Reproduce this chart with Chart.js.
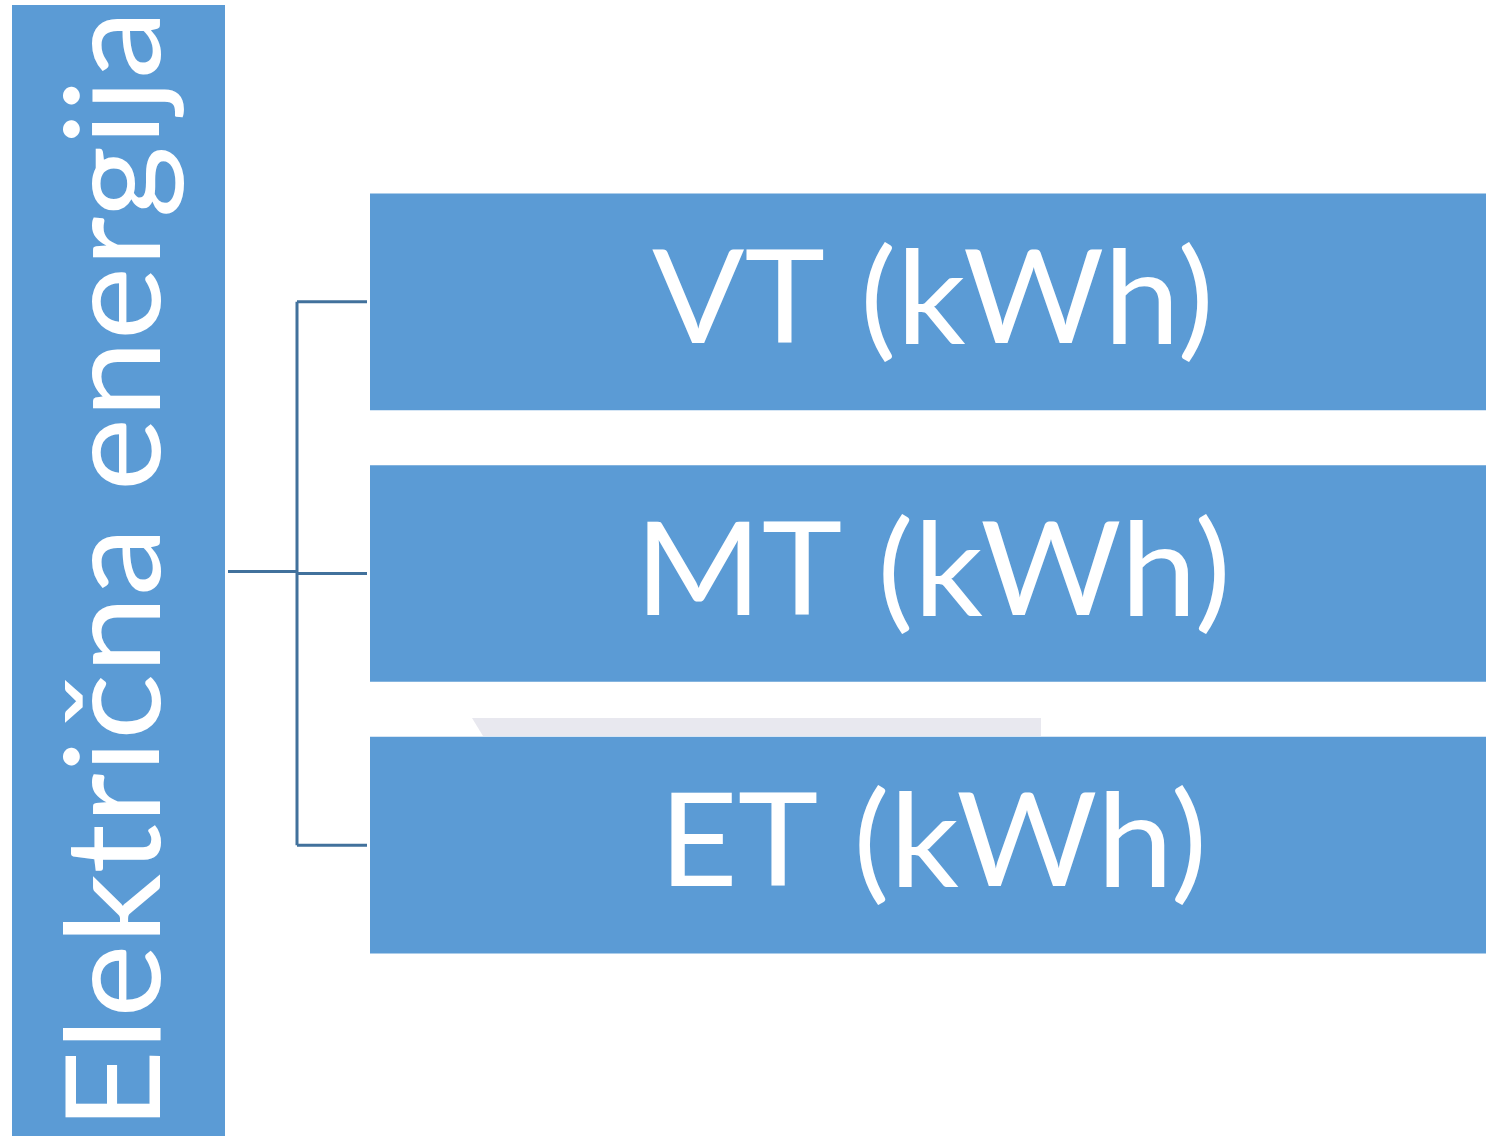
<!DOCTYPE html>
<html>
<head>
<meta charset="utf-8">
<script src="https://cdn.jsdelivr.net/npm/chart.js@4.4.1/dist/chart.umd.min.js"></script>
<style>
  html, body { margin: 0; padding: 0; background: #ffffff; }
  #wrap { width: 1486px; height: 1136px; position: relative; }
</style>
</head>
<body>
<div id="wrap"><canvas id="chart"></canvas></div>
<script>
// diagram content
const rootLabel = "Električna energija";
const categories = ["VT (kWh)", "MT (kWh)", "ET (kWh)"];
const boxValues = [1, 1, 1];

const BLUE = "#5b9bd5";
const LINE = "#41719c";
const FONT = "Lato, 'Open Sans', sans-serif";

// left header box + connectors drawn from the bar elements
const diagramPlugin = {
  id: "diagram",
  beforeDatasetsDraw(chart) {
    const ctx = chart.ctx;
    ctx.save();
    // faint strip under the middle box
    ctx.fillStyle = "#e8e8ef";
    ctx.beginPath();
    ctx.moveTo(472, 718);
    ctx.lineTo(1041, 718);
    ctx.lineTo(1041, 736);
    ctx.lineTo(483, 736);
    ctx.closePath();
    ctx.fill();

    // header box
    ctx.fillStyle = BLUE;
    ctx.fillRect(12, 5, 213, 1131);
    ctx.translate(160, 570);
    ctx.rotate(-Math.PI / 2);
    ctx.scale(1.053, 1);
    ctx.fillStyle = "#ffffff";
    ctx.font = "132px " + FONT;
    ctx.textAlign = "center";
    ctx.textBaseline = "alphabetic";
    ctx.fillText(rootLabel, 0, 0);
    ctx.restore();

    // connectors
    const bars = chart.getDatasetMeta(0).data;
    const first = bars[0], last = bars[bars.length - 1];
    const midY = (first.y + last.y) / 2 - 2;
    const spineX = 297;
    ctx.save();
    ctx.strokeStyle = LINE;
    ctx.lineWidth = 3;
    ctx.beginPath();
    ctx.moveTo(228, midY);
    ctx.lineTo(spineX, midY);
    ctx.moveTo(spineX, first.y);
    ctx.lineTo(spineX, last.y);
    bars.forEach(b => {
      ctx.moveTo(spineX, b.y);
      ctx.lineTo(b.base - 3, b.y);
    });
    ctx.stroke();
    ctx.restore();
  },
  afterDatasetsDraw(chart) {
    const ctx = chart.ctx;
    const bars = chart.getDatasetMeta(0).data;
    ctx.fillStyle = "#ffffff";
    ctx.font = "129px " + FONT;
    ctx.textAlign = "center";
    ctx.textBaseline = "alphabetic";
    bars.forEach((b, i) => {
      ctx.save();
      ctx.translate((b.base + b.x) / 2 + 5, b.y + 41);
      ctx.scale(1.058, 1);
      ctx.fillText(chart.data.labels[i], 0, 0);
      ctx.restore();
    });
  }
};

new Chart(document.getElementById("chart"), {
  type: "bar",
  data: {
    labels: categories,
    datasets: [{
      data: boxValues,
      backgroundColor: BLUE,
      borderWidth: 0,
      barThickness: 216
    }]
  },
  options: {
    indexAxis: "y",
    responsive: true,
    maintainAspectRatio: false,
    animation: false,
    layout: { padding: { left: 370, right: 0, top: 166, bottom: 155 } },
    scales: {
      x: { min: 0, max: 1, display: false },
      y: { display: false }
    },
    plugins: {
      legend: { display: false },
      tooltip: { enabled: false }
    }
  },
  plugins: [diagramPlugin]
});
</script>
</body>
</html>
